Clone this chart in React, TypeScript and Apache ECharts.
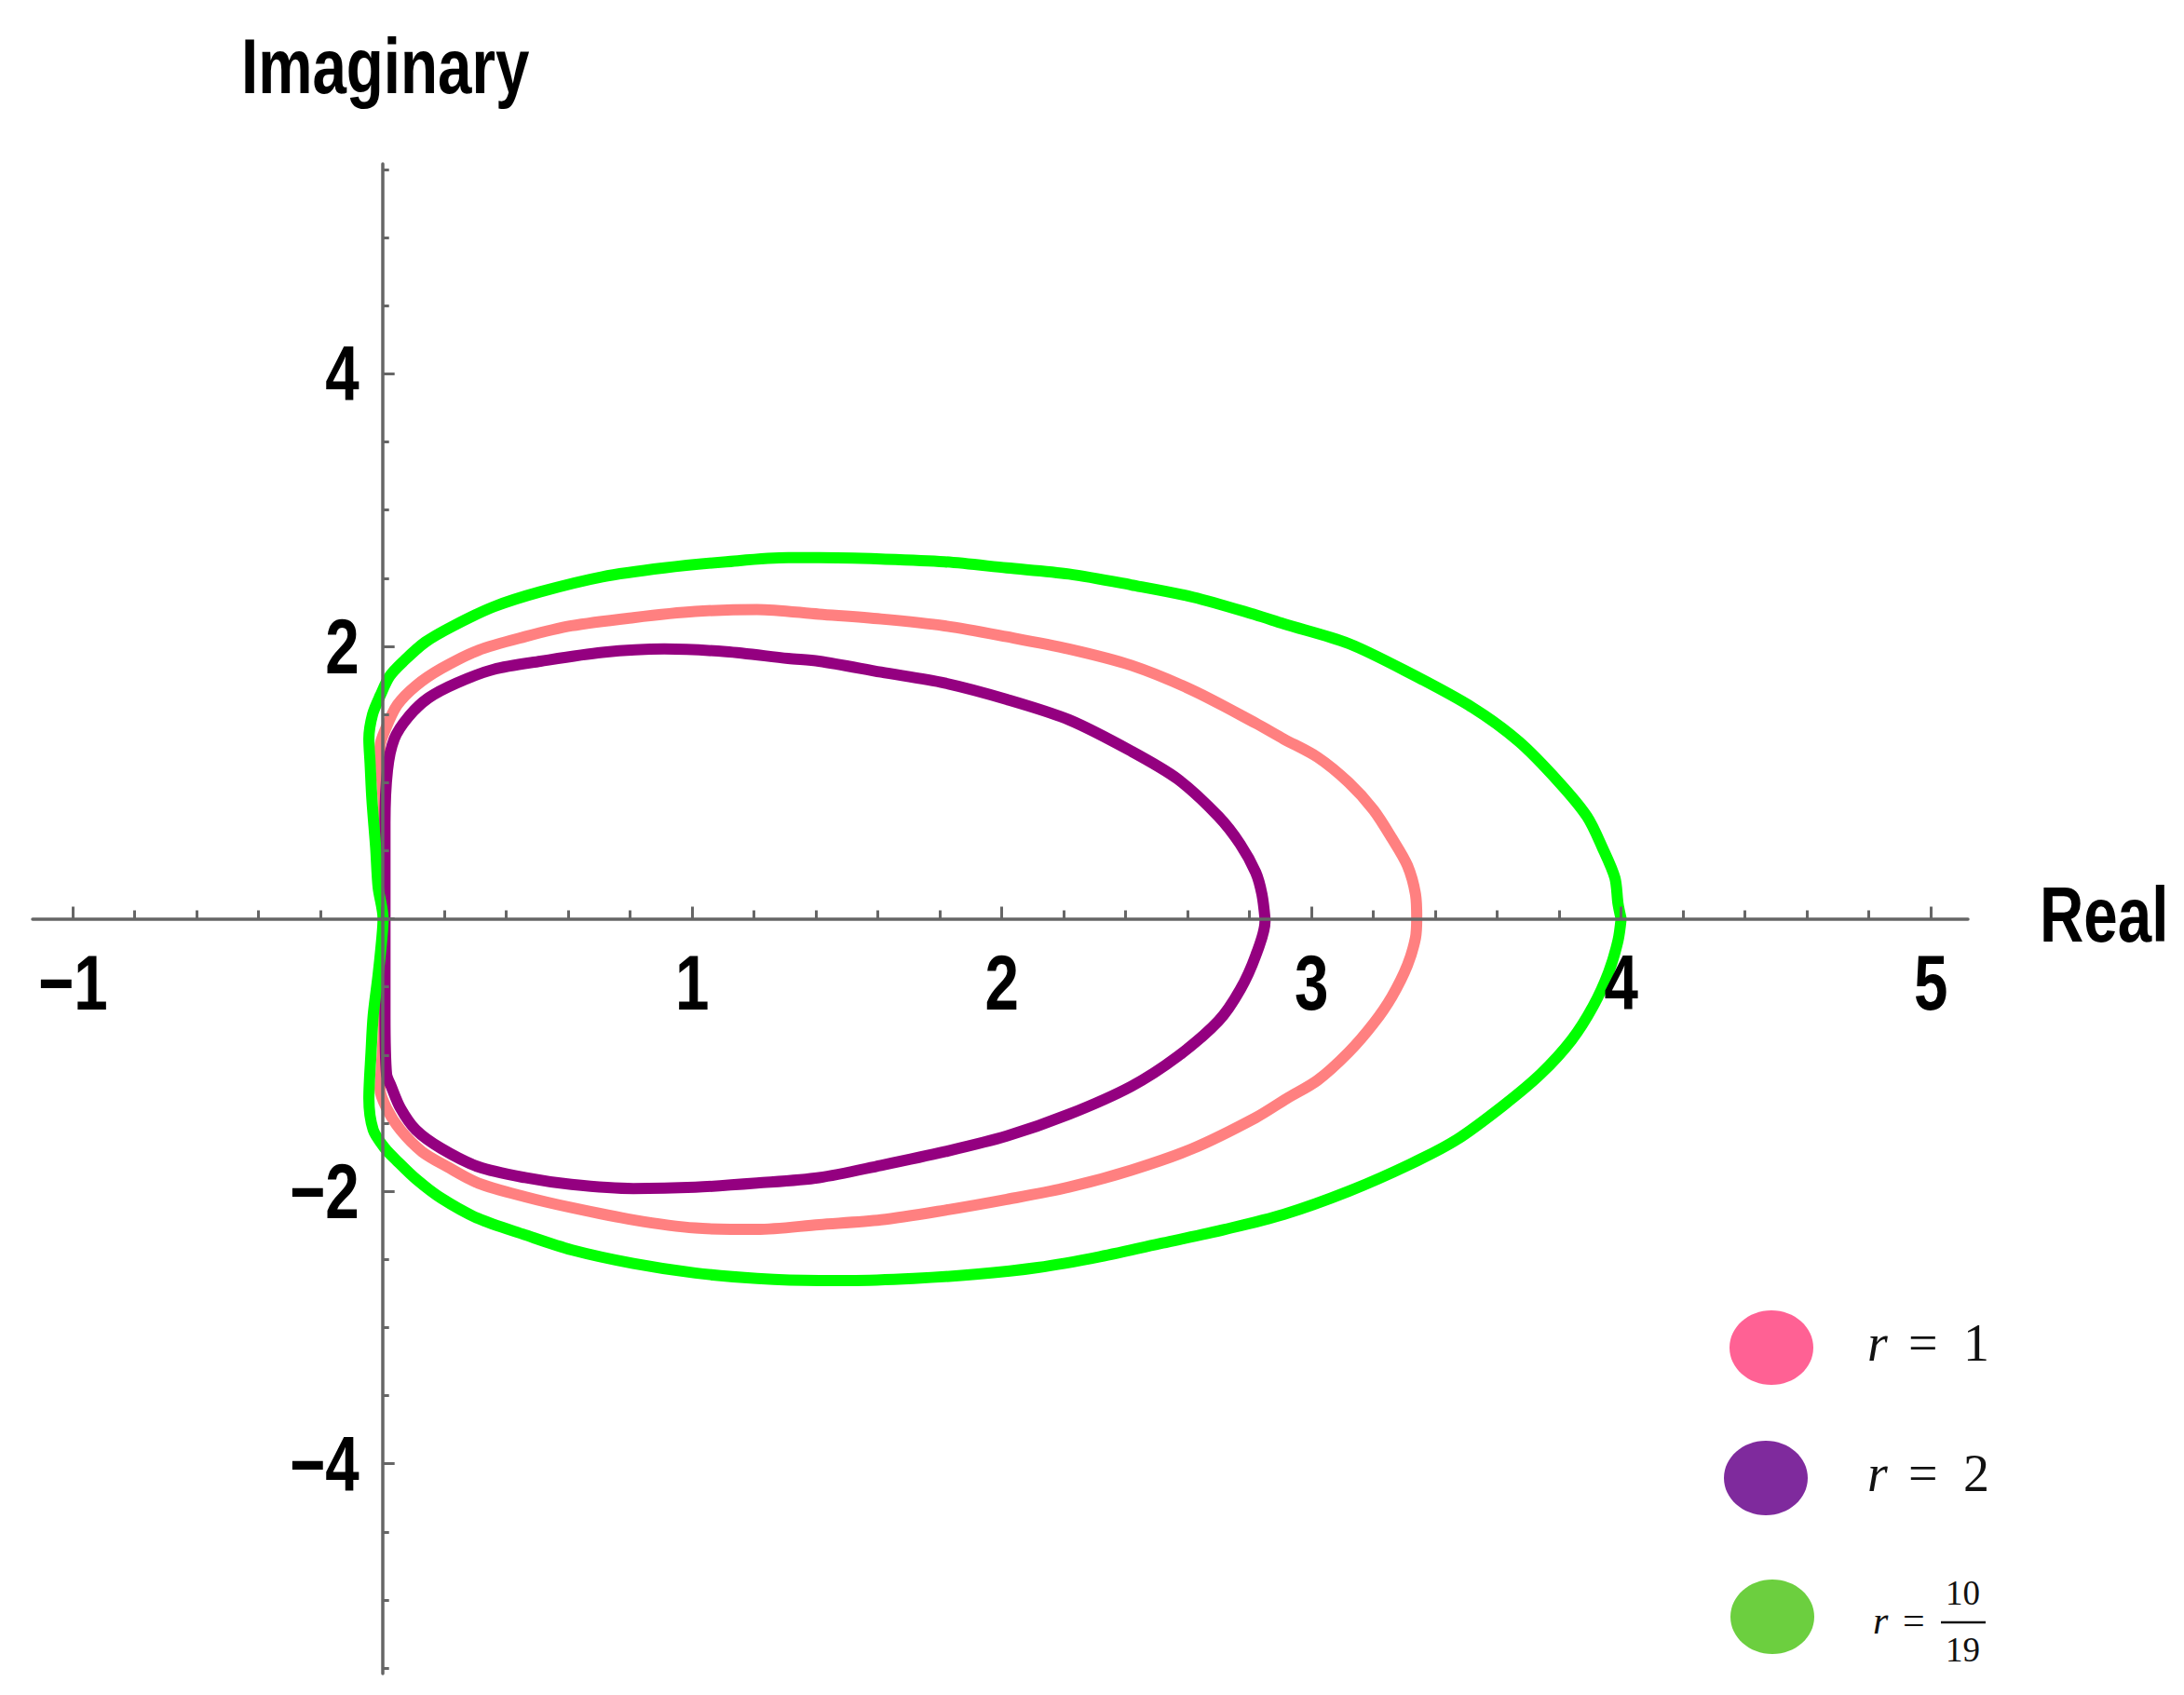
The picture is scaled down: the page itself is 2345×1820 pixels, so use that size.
import React, { useEffect, useRef } from 'react';
import * as echarts from 'echarts';

// ---- data ----
const seriesNames = ['r = 1', 'r = 2', 'r = 10/19'];

const pinkCurve: [number, number][] = [
  [3.34, 0], [3.336, 0.18], [3.31, 0.39], [3.26, 0.59], [3.2, 0.8], [3.12, 1.0], [3.02, 1.185],
  [2.91, 1.32], [2.82, 1.435], [2.618, 1.675], [2.418, 1.86], [2.217, 1.98], [2.016, 2.07],
  [1.815, 2.15], [1.61, 2.2], [1.41, 2.235], [1.21, 2.27], [1.01, 2.255], [0.81, 2.21],
  [0.61, 2.15], [0.46, 2.07], [0.309, 1.97], [0.189, 1.835], [0.108, 1.71], [0.048, 1.57],
  [0.013, 1.41], [-0.008, 1.26], [-0.005, 1.12], [0.003, 0.8], [0.003, 0.4], [0.003, 0],
  [0.003, -0.4], [0.003, -0.8], [-0.005, -1.14], [-0.008, -1.25], [0.013, -1.39],
  [0.058, -1.55], [0.128, -1.71], [0.209, -1.82], [0.309, -1.94], [0.46, -2.04],
  [0.61, -2.12], [0.81, -2.21], [1.01, -2.27], [1.21, -2.28], [1.41, -2.245], [1.61, -2.21],
  [1.815, -2.14], [2.016, -2.06], [2.217, -1.97], [2.418, -1.845], [2.618, -1.685],
  [2.82, -1.46], [2.92, -1.32], [3.02, -1.185], [3.12, -0.98], [3.2, -0.77], [3.26, -0.57],
  [3.31, -0.34], [3.336, -0.14], [3.34, 0],
];

const purpleCurve: [number, number][] = [
  [2.85, 0], [2.84, 0.18], [2.82, 0.34], [2.77, 0.547], [2.7, 0.75], [2.568, 1.025],
  [2.418, 1.23], [2.217, 1.46], [2.016, 1.61], [1.815, 1.73], [1.61, 1.81], [1.41, 1.89],
  [1.31, 1.91], [1.11, 1.96], [0.91, 1.98], [0.71, 1.955], [0.51, 1.89], [0.359, 1.83],
  [0.239, 1.73], [0.148, 1.62], [0.083, 1.48], [0.038, 1.32], [0.016, 1.09], [0.008, 0.7],
  [0.008, 0.3], [0.008, 0], [0.008, -0.3], [0.008, -0.7], [0.013, -1.14], [0.028, -1.23],
  [0.058, -1.39], [0.108, -1.55], [0.189, -1.685], [0.309, -1.82], [0.46, -1.9],
  [0.61, -1.95], [0.81, -1.98], [1.01, -1.97], [1.21, -1.94], [1.41, -1.9], [1.61, -1.81],
  [1.815, -1.71], [2.016, -1.595], [2.217, -1.435], [2.418, -1.23], [2.568, -1.01],
  [2.7, -0.75], [2.77, -0.52], [2.82, -0.27], [2.85, -0.02], [2.85, 0],
];

const greenCurve: [number, number][] = [
  [4.0, 0], [3.99, 0.11], [3.98, 0.3], [3.94, 0.52], [3.89, 0.75], [3.8, 1.0], [3.67, 1.3],
  [3.52, 1.55], [3.32, 1.8], [3.12, 2.02], [2.91, 2.165], [2.82, 2.23], [2.618, 2.36],
  [2.418, 2.45], [2.217, 2.53], [2.016, 2.575], [1.815, 2.62], [1.61, 2.64], [1.41, 2.65],
  [1.31, 2.65], [1.11, 2.62], [0.91, 2.575], [0.71, 2.51], [0.51, 2.4], [0.359, 2.29],
  [0.229, 2.15], [0.138, 2.03], [0.068, 1.89], [0.023, 1.78], [-0.007, 1.64], [-0.032, 1.5],
  [-0.044, 1.32], [-0.04, 1.14], [-0.034, 0.87], [-0.022, 0.52], [-0.014, 0.23], [0.002, 0],
  [-0.002, -0.14], [-0.014, -0.41], [-0.03, -0.71], [-0.037, -0.98], [-0.044, -1.32],
  [-0.03, -1.55], [0.008, -1.685], [0.048, -1.78], [0.108, -1.91], [0.189, -2.05],
  [0.309, -2.2], [0.46, -2.32], [0.61, -2.43], [0.81, -2.53], [1.01, -2.6], [1.21, -2.64],
  [1.41, -2.655], [1.51, -2.655], [1.715, -2.64], [1.915, -2.61], [2.116, -2.56],
  [2.317, -2.48], [2.52, -2.38], [2.72, -2.28], [2.91, -2.17], [3.12, -2.0], [3.32, -1.8],
  [3.47, -1.62], [3.62, -1.37], [3.74, -1.14], [3.84, -0.89], [3.91, -0.64], [3.96, -0.39],
  [3.99, -0.16], [4.0, 0],
];

const xMajorTicks = [-1, 0, 1, 2, 3, 4, 5];
const xLabelValues = [-1, 1, 2, 3, 4, 5];
const xMinorTicks = [
  -0.8, -0.6, -0.4, -0.2, 0.2, 0.4, 0.6, 0.8, 1.2, 1.4, 1.6, 1.8, 2.2, 2.4, 2.6, 2.8,
  3.2, 3.4, 3.6, 3.8, 4.2, 4.4, 4.6, 4.8,
];
const yMajorTicks = [-4, -2, 0, 2, 4];
const yLabelValues = [-4, -2, 2, 4];
const yMinorTicks = [
  -5.5, -5, -4.5, -3.5, -3, -2.5, -1.5, -1, -0.5, 0.5, 1, 1.5, 2.5, 3, 3.5, 4.5, 5, 5.5,
];
const xAxisName = 'Real';
const yAxisName = 'Imaginary';

const X_MIN = -1.13;
const X_MAX = 5.12;
const Y_MIN = -5.54;
const Y_MAX = 5.54;

const lineColors = ['#ff8080', '#940080', '#00ff00'];
const legendColors = ['#ff6194', '#7f2a9d', '#6ccf3f'];

const AXIS_COLOR = '#666666';
const SANS = "'Liberation Sans', Arial, sans-serif";
const SERIF = "'Liberation Serif', 'DejaVu Serif', serif";
const CONDENSE = 0.78;

const minusFmt = (v: number) => String(v).replace('-', '\u2212');

export default function App() {
  const ref = useRef<HTMLDivElement>(null);

  useEffect(() => {
    if (!ref.current) return;
    const chart = echarts.init(ref.current, undefined, { renderer: 'svg' });

    const curves = [pinkCurve, purpleCurve, greenCurve];

    const tickAxis = (kind: 'x' | 'y', major: boolean) => ({
      type: 'value',
      min: kind === 'x' ? X_MIN : Y_MIN,
      max: kind === 'x' ? X_MAX : Y_MAX,
      position: kind === 'x' ? 'bottom' : 'left',
      z: 5,
      axisLine: major
        ? { show: true, onZero: true, lineStyle: { color: AXIS_COLOR, width: 3.5 } }
        : { show: false, onZero: true, onZeroAxisIndex: 0 },
      axisTick: {
        show: true,
        inside: true,
        length: major ? 13 : kind === 'x' ? 9 : 7,
        customValues: major
          ? kind === 'x' ? xMajorTicks : yMajorTicks
          : kind === 'x' ? xMinorTicks : yMinorTicks,
        lineStyle: { color: AXIS_COLOR, width: 3 },
      },
      axisLabel: { show: false },
      splitLine: { show: false },
      minorTick: { show: false },
    });

    chart.setOption({
      animation: false,
      backgroundColor: '#ffffff',
      grid: {
        left: 35,
        top: 176,
        width: 2078,
        height: 1621,
        containLabel: false,
        outerBoundsMode: 'none',
      },
      xAxis: [tickAxis('x', true), tickAxis('x', false)],
      yAxis: [tickAxis('y', true), tickAxis('y', false)],
      series: curves.map((data, i) => ({
        name: seriesNames[i],
        type: 'line',
        xAxisIndex: 0,
        yAxisIndex: 0,
        data,
        showSymbol: false,
        symbol: 'none',
        smooth: 0.3,
        z: 2,
        lineStyle: { color: lineColors[i], width: 12, cap: 'round', join: 'round' },
        emphasis: { disabled: true },
      })),
    });

    const toPx = (x: number, y: number) =>
      chart.convertToPixel({ xAxisIndex: 0, yAxisIndex: 0 }, [x, y]) as number[];

    const sansText = (x: number, y: number, text: string, align: string) => ({
      type: 'text',
      x,
      y,
      scaleX: CONDENSE,
      z: 10,
      style: {
        text,
        fill: '#000',
        font: `bold 84px ${SANS}`,
        align,
        verticalAlign: 'middle',
      },
    });

    const legendText = (x: number, y: number, text: string, size: number, italic = false) => ({
      type: 'text',
      x,
      y,
      style: {
        text,
        fill: '#111',
        font: `${italic ? 'italic ' : ''}${size}px ${SERIF}`,
        align: 'left',
        verticalAlign: 'middle',
      },
    });

    const origin = toPx(0, 0);
    const xLabels = xLabelValues.map((v) => {
      const p = toPx(v, 0);
      return sansText(p[0], origin[1] + 69, minusFmt(v), 'center');
    });
    const yLabels = yLabelValues.map((v) => {
      const p = toPx(0, v);
      return sansText(origin[0] - 25, p[1], minusFmt(v), 'right');
    });
    const xEnd = toPx(X_MAX, 0);
    const yEnd = toPx(0, Y_MAX);

    chart.setOption({
      graphic: [
        ...xLabels,
        ...yLabels,
        sansText(xEnd[0] + 77, origin[1] - 4, xAxisName, 'left'),
        sansText(yEnd[0] + 3, yEnd[1] - 105, yAxisName, 'center'),
        { type: 'ellipse', shape: { cx: 1902, cy: 1447, rx: 45, ry: 40 }, style: { fill: legendColors[0] } },
        { type: 'ellipse', shape: { cx: 1896, cy: 1587, rx: 45, ry: 40 }, style: { fill: legendColors[1] } },
        { type: 'ellipse', shape: { cx: 1903, cy: 1736, rx: 45, ry: 40 }, style: { fill: legendColors[2] } },
        legendText(2005, 1442, 'r', 56, true),
        legendText(2049, 1442, '=', 56),
        legendText(2108, 1442, '1', 56),
        legendText(2005, 1582, 'r', 56, true),
        legendText(2049, 1582, '=', 56),
        legendText(2108, 1582, '2', 56),
        legendText(2011, 1740, 'r', 42, true),
        legendText(2043, 1740, '=', 42),
        legendText(2089, 1710, '10', 37),
        legendText(2089, 1771, '19', 37),
        {
          type: 'line',
          shape: { x1: 2084, y1: 1742, x2: 2132, y2: 1742 },
          style: { stroke: '#111', lineWidth: 2.5 },
        },
      ],
    });

    return () => chart.dispose();
  }, []);

  return (
    <div
      ref={ref}
      style={{ position: 'absolute', left: 0, top: 0, width: 2345, height: 1820, background: '#fff' }}
    />
  );
}
